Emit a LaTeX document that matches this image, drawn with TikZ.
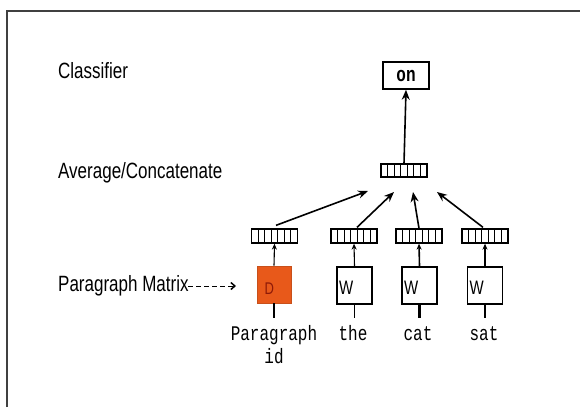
\documentclass[tikz,border=0pt]{standalone}
\usepackage{graphicx}
\usepackage{fontspec}
\setmainfont{Liberation Sans}
\setmonofont{Liberation Mono}
\usetikzlibrary{arrows.meta,calc}
\definecolor{dorange}{HTML}{E8591A}
\definecolor{dedge}{HTML}{C8501A}
\definecolor{dred}{HTML}{8E1A08}
\newcommand{\tallt}[1]{\scalebox{1}[1.3]{#1}}
\begin{document}
\begin{tikzpicture}[x=1pt,y=-1pt,
  lbl/.style={font=\fontsize{17}{20}\selectfont, anchor=base west, inner sep=0pt},
  mono/.style={font=\fontsize{16}{23}\selectfont\ttfamily, inner sep=0pt, anchor=base},
  vec/.style={draw, line width=1.3pt, minimum width=46pt, minimum height=13pt, inner sep=0pt,
    path picture={\foreach \i in {1,...,6}{\draw[line width=0.9pt]
      ($(path picture bounding box.south west)!\i/7!(path picture bounding box.south east)$) --
      ($(path picture bounding box.north west)!\i/7!(path picture bounding box.north east)$);}}},
  wbox/.style={draw, line width=1.6pt, minimum height=37pt, text width=31pt, inner xsep=2pt,
    inner ysep=0pt, text height=18pt, text depth=0pt,
    align=left, font=\fontsize{15}{15}\selectfont},
  arr/.style={-{Stealth[length=10pt,width=8pt]}, line width=1.6pt},
  sarr/.style={-{Stealth[length=6pt,width=5pt]}, line width=1.1pt},
  stem/.style={line width=1.3pt}
]
\useasboundingbox (0,0) rectangle (580,407);
% frame
\draw[line width=2pt, black!75] (7,407) -- (7,11) -- (580,11);

% left labels
\node[lbl] (lcls) at (58,78) {\tallt{Classifier}};
\node[lbl] (lavg) at (58,178) {\tallt{Average/Concatenate}};
\node[lbl] (lpm) at (58,291) {\tallt{Paragraph Matrix}};
\coordinate (pmend) at (236,286);
\draw[dashed, dash pattern=on 5pt off 3pt, line width=1pt, -{Straight Barb[length=4pt,width=7pt,line width=1.5pt]}] (188,286) -- (pmend);

% classifier box
\node[draw, line width=1.6pt, minimum width=46pt, minimum height=27pt, inner sep=0pt,
  font=\fontsize{16}{16}\selectfont\ttfamily\bfseries] (on) at (406,75.5) {\tallt{on}};

% average vector
\node[vec] (avg) at (404,170.5) {};
\draw[arr] (avg.north) -- (on.south);

% word vectors
\node[vec, minimum height=14pt] (pvec) at (274.5,236) {};
\node[vec, minimum height=14pt] (tvec) at (354,236) {};
\node[vec, minimum height=14pt] (cvec) at (419,236) {};
\node[vec, minimum height=14pt] (svec) at (485,236) {};

\coordinate (e1) at (368,191);
\coordinate (e2) at (394,192);
\coordinate (e3) at (413,192);
\coordinate (e4) at (437,192);
\draw[arr] ($(pvec.north)+(1.5,-3)$) -- (e1);
\draw[arr] ($(tvec.north)+(3,-1)$) -- (e2);
\draw[arr] (cvec.north) -- (e3);
\draw[arr] ($(svec.north)+(-2,-1)$) -- (e4);

% matrices
\node[draw=dedge, fill=dorange, line width=0.8pt, minimum width=34pt, minimum height=37pt,
  inner sep=0pt] (dbox) at (274,284.5) {};
\node[text=dred, font=\fontsize{13}{13}\selectfont, anchor=base west, inner sep=0pt] (dlet) at (264.5,294) {\tallt{D}};
\node[wbox] (wthe) at (354.5,285.5) {\tallt{W}};
\node[wbox, line width=2.4pt] (wcat) at (419.5,285.5) {\tallt{W}};
\node[wbox] (wsat) at (485,285.5) {\tallt{W}};

\draw[sarr] (dbox.north) -- (pvec.south);
\draw[sarr] (wthe.north) -- (tvec.south);
\draw[sarr, line width=1.6pt] (wcat.north) -- (cvec.south);
\draw[sarr] (wsat.north) -- (svec.south);

% word labels
\node[mono] (pid) at (274,340) {\tallt{Paragraph}};
\node[mono] (pid2) at (274,363) {\tallt{id}};
\node[mono] (lthe) at (353,340) {\tallt{the}};
\node[mono] (lcat) at (418,340) {\tallt{cat}};
\node[mono] (lsat) at (484,340) {\tallt{sat}};

\draw[stem] (dbox.south) -- (dbox.south |- 0,318);
\draw[stem] (wthe.south) -- (wthe.south |- 0,318);
\draw[stem, line width=2.2pt] (wcat.south) -- (wcat.south |- 0,318);
\draw[stem] (wsat.south) -- (wsat.south |- 0,318);
\end{tikzpicture}
\end{document}
